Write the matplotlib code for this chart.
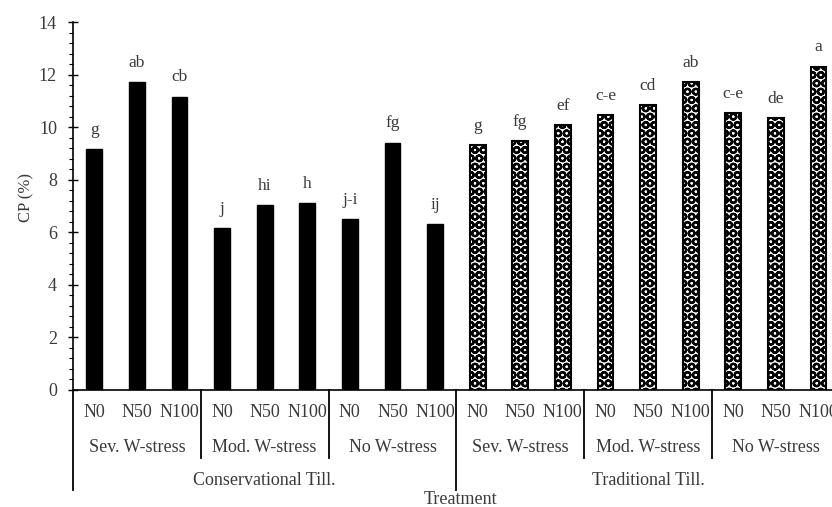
import matplotlib
matplotlib.use("Agg")
import matplotlib.pyplot as plt
from matplotlib.ticker import MultipleLocator
import numpy as np

plt.rcParams['font.family'] = ['Liberation Serif', 'DejaVu Serif']
plt.rcParams['hatch.linewidth'] = 1.6

# Crude protein by treatment
nitrogen = ["N0", "N50", "N100"]
water = ["Sev. W-stress", "Mod. W-stress", "No W-stress"]
tillage = ["Conservational Till.", "Traditional Till."]
cp_conservational = [9.16, 11.70, 11.16, 6.17, 7.03, 7.10, 6.51, 9.41, 6.32]
cp_traditional = [9.31, 9.48, 10.08, 10.47, 10.85, 11.70, 10.53, 10.33, 12.30]
letters = ["g", "ab", "cb", "j", "hi", "h", "j-i", "fg", "ij",
           "g", "fg", "ef", "c-e", "cd", "ab", "c-e", "de", "a"]

txt = "#3a3a3a"
fs = 13
fig = plt.figure(figsize=(8.32, 5.07), dpi=100)
ax = fig.add_axes([0.0877, 0.2308, 0.9216, 0.7258])

values = cp_conservational + cp_traditional
n_cons = len(cp_conservational)
x = np.arange(len(values))
bw = 0.37
ax.bar(x[:n_cons], cp_conservational, width=bw, color="black", edgecolor="black")
ax.bar(x[n_cons:], cp_traditional, width=bw, color="white", edgecolor="black",
       hatch="OO", linewidth=1.5)

for xi, v, lab in zip(x, values, letters):
    ax.annotate(lab, (xi, v), xytext=(0, 11), textcoords="offset points",
                ha="center", va="baseline", fontsize=fs - 0.5, color=txt)

ax.set_xlim(-0.5, len(values) - 0.5)
ax.set_ylim(0, 14)
ax.yaxis.set_major_locator(MultipleLocator(2))
ax.yaxis.set_minor_locator(MultipleLocator(0.4))
ax.tick_params(axis="y", which="major", direction="inout", length=7, width=1,
               labelsize=fs, labelcolor=txt, pad=8)
ax.tick_params(axis="y", which="minor", direction="out", length=3, width=0.8)
ax.set_xticks([])
for s in ["top", "right"]:
    ax.spines[s].set_visible(False)
ax.spines["left"].set_linewidth(1.2)
ax.spines["bottom"].set_linewidth(1.2)
ax.set_ylabel("CP (%)", fontsize=fs - 1, color=txt)
ax.yaxis.set_label_coords(-0.050, 0.524)

tr = ax.get_xaxis_transform()
# nitrogen labels
for i in range(len(values)):
    ax.text(x[i], -0.060, nitrogen[i % 3], transform=tr, ha="center", va="center",
            fontsize=fs, color=txt, clip_on=False)
# water-stress labels and separators
for g in range(6):
    ax.text(3 * g + 1, -0.155, water[g % 3], transform=tr, ha="center", va="center",
            fontsize=fs, color=txt, clip_on=False)
for g in range(1, 6):
    xs = 3 * g - 0.5
    depth = -0.272 if g == 3 else -0.185
    ax.plot([xs, xs], [0, depth], transform=tr, color="black", lw=1.3, clip_on=False)
ax.plot([-0.5, -0.5], [0, -0.272], transform=tr, color="black", lw=1.3, clip_on=False)
# tillage labels
ax.text(4, -0.245, tillage[0], transform=tr, ha="center", va="center",
        fontsize=fs, color=txt, clip_on=False)
ax.text(13, -0.245, tillage[1], transform=tr, ha="center", va="center",
        fontsize=fs, color=txt, clip_on=False)
ax.text(8.6, -0.298, "Treatment", transform=tr, ha="center", va="center",
        fontsize=fs, color=txt, clip_on=False)

fig.savefig("out.png", dpi=100)
